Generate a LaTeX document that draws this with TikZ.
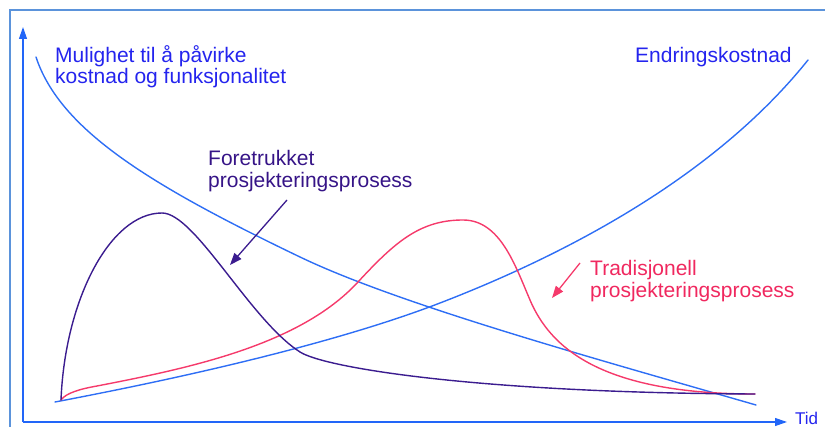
\documentclass[tikz,border=0pt]{standalone}
\usepackage{fontspec}
\setmainfont{Liberation Sans}
\usetikzlibrary{arrows.meta}
\definecolor{framecol}{HTML}{5B93DB}
\definecolor{axiscol}{HTML}{2266F8}
\definecolor{bluecurve}{HTML}{2E6EF5}
\definecolor{bluetext}{HTML}{2424EE}
\definecolor{purplecurve}{HTML}{3B1C8F}
\definecolor{purpletext}{HTML}{361487}
\definecolor{redcurve}{HTML}{F53A6B}
\definecolor{redtext}{HTML}{F0285F}
\begin{document}
\begin{tikzpicture}[x=1pt,y=-1pt,
  lbl/.style={anchor=base west, inner sep=0pt, font=\fontsize{21}{24}\selectfont},
  curve/.style={line width=1.4pt, line join=round, line cap=round},
  axisline/.style={draw=axiscol, line width=1.2pt, -{Triangle[length=12pt,width=8pt]}},
  pointer/.style={line width=1.3pt, -{Triangle[length=12pt,width=9pt]}}]
\useasboundingbox (0,0) rectangle (825,427);
% frame
\draw[framecol, line width=2pt] (9.5,427) -- (9.5,10) -- (825,10);
% axes
\coordinate (O) at (23,422);
\coordinate (ytop) at (23,27);
\coordinate (xend) at (787,422);
\draw[axisline] (O) -- (ytop);
\draw[axisline] (O) -- (xend);
% Mulighet curve (decreasing)
\draw[curve, bluecurve] (36,57) .. controls (60,130) and (150,185) .. (300,257)
  .. controls (400,305) and (600,360) .. (756,405);
% Endringskostnad curve (increasing)
\draw[curve, bluecurve] (55,402) .. controls (250,365) and (370,330) .. (440,303)
  .. controls (580,249) and (720,170) .. (808,60);
% Tradisjonell (red)
\draw[curve, redcurve] (61,400) .. controls (66,393) and (80,389) .. (97,386)
  .. controls (190,368) and (300,345) .. (358,282)
  .. controls (395,242) and (420,220) .. (463,220)
  .. controls (500,220) and (515,265) .. (530,300)
  .. controls (550,347) and (600,394) .. (755,394);
% Foretrukket (purple)
\draw[curve, purplecurve] (61,400) .. controls (65,300) and (110,213) .. (162,213)
  .. controls (195,213) and (250,320) .. (300,352)
  .. controls (325,368) and (480,393) .. (755,394);
% labels
\node[lbl, text=bluetext] (mul1) at (55,63) {Mulighet til å påvirke};
\node[lbl, text=bluetext] (mul2) at (55,84) {kostnad og funksjonalitet};
\node[lbl, text=bluetext] (endr) at (635,63) {Endringskostnad};
\node[lbl, text=purpletext] (for1) at (208,166) {Foretrukket};
\node[lbl, text=purpletext] (for2) at (208,188) {prosjekteringsprosess};
\node[lbl, text=redtext] (tra1) at (590,276) {Tradisjonell};
\node[lbl, text=redtext] (tra2) at (590,298) {prosjekteringsprosess};
\node[anchor=base west, inner sep=0pt, text=bluetext, font=\fontsize{17}{20}\selectfont] (tid) at (795,425) {Tid};
% pointers
\coordinate (pa) at (287,200);
\coordinate (pb) at (230,265);
\draw[pointer, purplecurve] (pa) -- (pb);
\coordinate (ra) at (580,263);
\coordinate (rb) at (552,298);
\draw[pointer, redcurve] (ra) -- (rb);
\end{tikzpicture}
\end{document}
